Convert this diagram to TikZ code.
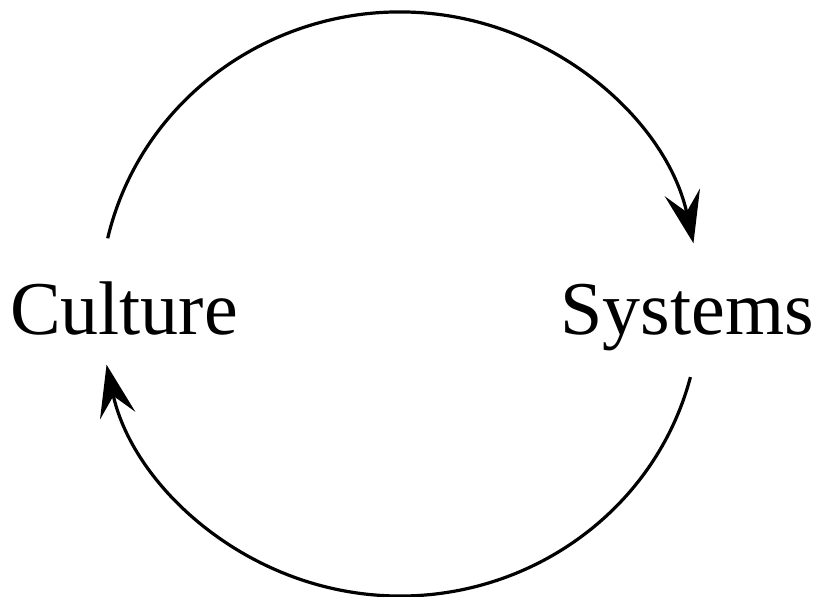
\documentclass[tikz,border=0pt]{standalone}
\usepackage{fontspec}
\setmainfont{Liberation Serif}
\usetikzlibrary{arrows.meta, positioning, calc}

\begin{document}
\begin{tikzpicture}[
    x=0.5pt, y=0.5pt,
    label/.style={inner sep=0pt, font=\fontsize{38}{40}\selectfont},
    flow/.style={draw, line width=1.6pt, -{Stealth[length=26pt, width=18pt, inset=10pt]}}
]
\useasboundingbox (0,0) rectangle (815,597);

\coordinate (hub) at (400,293);
\node [label, anchor=base] (culture) at (124,262) {Culture};
\node [label, anchor=base] (systems) at (687,262) {Systems};

\path [flow] ([shift={(167:300 and 292)}]hub) arc[start angle=167, end angle=12, x radius=300, y radius=292];
\path [flow] ([shift={(-14.5:300 and 292)}]hub) arc[start angle=-14.5, end angle=-168, x radius=300, y radius=292];
\end{tikzpicture}
\end{document}
